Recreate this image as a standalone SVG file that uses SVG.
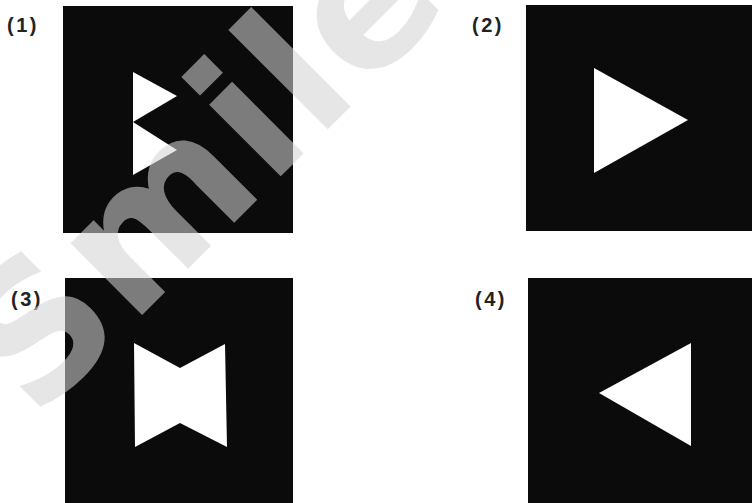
<svg xmlns="http://www.w3.org/2000/svg" width="752" height="503" viewBox="0 0 752 503">
<style>
.bg{fill:#0b0b0b}
.sh{fill:#ffffff}
.lbl{font-family:"Liberation Sans",Arial,sans-serif;font-weight:bold;font-size:20px;fill:#222;letter-spacing:2.5px}
.wm{font-family:"DejaVu Sans",Verdana,sans-serif;font-weight:bold;font-size:185px;letter-spacing:3px;fill:#d3d3d3;fill-opacity:0.57}
</style>
<rect width="752" height="503" fill="#ffffff"/>
<g id="panel1">
<text class="lbl" x="7" y="32">(1)</text>
<rect class="bg" x="63" y="6" width="230" height="227"/>
<polygon class="sh" points="133,72 177,96 133,122 177,150 133,175"/>
</g>
<g id="panel2">
<text class="lbl" x="472" y="32">(2)</text>
<rect class="bg" x="526" y="5" width="226" height="226"/>
<polygon class="sh" points="594,68 688,120 594,173"/>
</g>
<g id="panel3">
<text class="lbl" x="11" y="306">(3)</text>
<rect class="bg" x="65" y="278" width="228" height="225"/>
<polygon class="sh" points="134,343 180,368 225,344 227,447 180,423 135,447"/>
</g>
<g id="panel4">
<text class="lbl" x="475" y="306">(4)</text>
<rect class="bg" x="528" y="278" width="224" height="225"/>
<polygon class="sh" points="691,343 599,393 691,446"/>
</g>
<text class="wm" transform="translate(35,422) rotate(-45)" x="0" y="0">Smile</text>
</svg>
